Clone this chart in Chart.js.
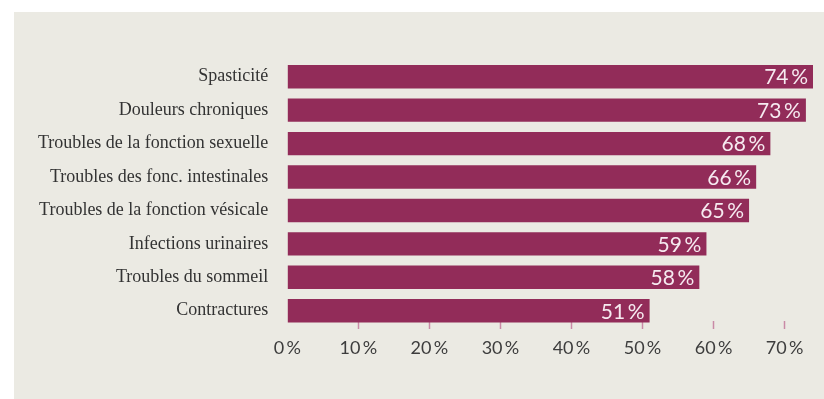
<!DOCTYPE html>
<html>
<head>
<meta charset="utf-8">
<script src="https://cdn.jsdelivr.net/npm/chart.js@4/dist/chart.umd.min.js"></script>
<style>
  html, body { margin: 0; padding: 0; background: #ffffff; }
  #panel { position: absolute; left: 14px; top: 12px; width: 810px; height: 387px; background: #ebeae3; }
</style>
</head>
<body>
<div id="panel"><canvas id="barChart" width="810" height="387"></canvas></div>
<script>
const categories = [
  "Spasticité",
  "Douleurs chroniques",
  "Troubles de la fonction sexuelle",
  "Troubles des fonc. intestinales",
  "Troubles de la fonction vésicale",
  "Infections urinaires",
  "Troubles du sommeil",
  "Contractures"
];
const percentages = [74, 73, 68, 66, 65, 59, 58, 51];
const tick_values = [0, 10, 20, 30, 40, 50, 60, 70];

const pct = v => v + "\u2009%";

// labels in the bars, right aligned near the end
const valueLabels = {
  id: "valueLabels",
  afterDatasetsDraw(chart) {
    const ctx = chart.ctx;
    const meta = chart.getDatasetMeta(0);
    ctx.save();
    ctx.font = "21px Lato";
    ctx.fillStyle = "#f6eaf0";
    ctx.textAlign = "right";
    ctx.textBaseline = "middle";
    meta.data.forEach((bar, i) => {
      ctx.fillText(pct(percentages[i]), bar.x - 5, bar.y + 1);
    });
    ctx.restore();
  }
};

var ctx = document.getElementById("barChart").getContext("2d");
var chart = new Chart(ctx, {
  type: "bar",
  data: {
    labels: categories,
    datasets: [{
      data: percentages,
      backgroundColor: "#922c59",
      barPercentage: 0.7,
      categoryPercentage: 1,
      clip: false
    }]
  },
  options: {
    indexAxis: "y",
    responsive: false,
    animation: false,
    layout: { padding: { left: 0, right: 11, top: 48, bottom: 0 } },
    plugins: { legend: { display: false }, tooltip: { enabled: false } },
    scales: {
      x: {
        min: 0,
        max: 74,
        ticks: {
          stepSize: 10,
          color: "#3d3d3d",
          font: { family: "Lato", size: 18 },
          padding: 8,
          callback: v => pct(v)
        },
        afterBuildTicks: axis => {
          axis.ticks = tick_values.map(v => ({ value: v }));
        },
        afterFit: axis => { axis.height = 78; },
        grid: {
          drawOnChartArea: false,
          tickLength: 8,
          tickWidth: 1.5,
          tickColor: c => c.tick && c.tick.value === 0 ? "rgba(0,0,0,0)" : "#c98aa6"
        },
        border: { display: false }
      },
      y: {
        ticks: {
          color: "#333333",
          font: { family: "Liberation Serif", size: 18 },
          padding: 19
        },
        afterBuildTicks: axis => {
          // bars keep their spacing but the x ticks start just under the last bar
          axis._startValue = -0.5;
          axis._valueRange = 7.807;
        },
        afterFit: axis => { axis.width = 273.3; },
        grid: { display: false, drawTicks: false },
        border: { display: false }
      }
    }
  },
  plugins: [valueLabels]
});
</script>
</body>
</html>
